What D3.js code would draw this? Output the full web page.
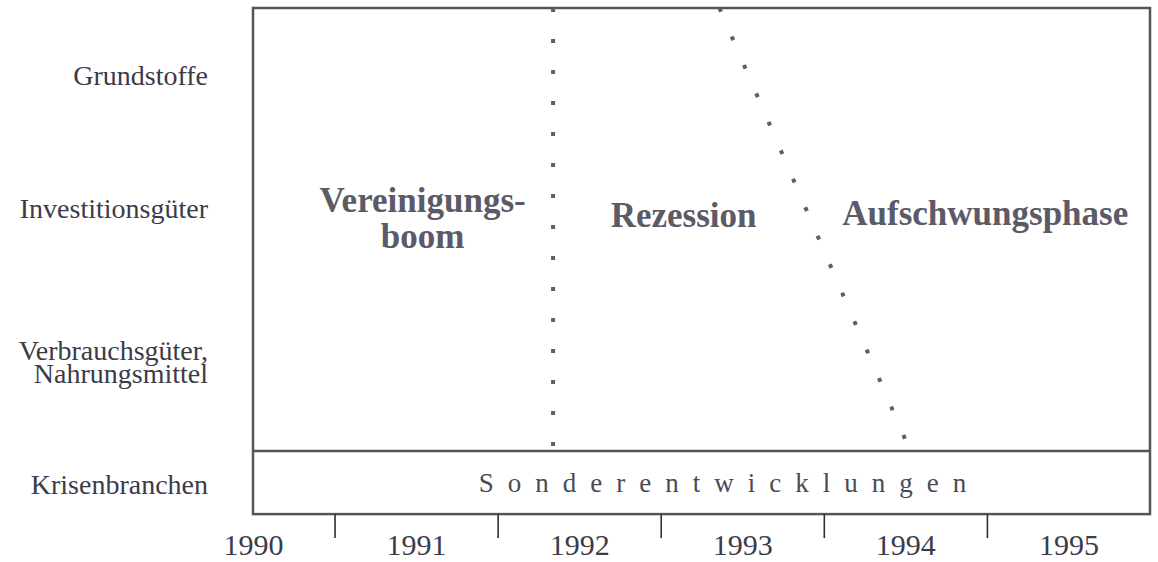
<!DOCTYPE html>
<html>
<head>
<meta charset="utf-8">
<script src="https://cdn.jsdelivr.net/npm/d3@7"></script>
<style>
  body { margin: 0; background: #fff; }
  svg { display: block; }
  svg text { font-family: "Liberation Serif", "DejaVu Serif", "Times New Roman", Times, serif; }
</style>
</head>
<body>
<svg id="chart"></svg>
<script>
const width = 1158;
const height = 562;
const serif = "'Liberation Serif', 'DejaVu Serif', 'Times New Roman', Times, serif";

// years on the time axis, tick marks sit between them
const years = [1990, 1991, 1992, 1993, 1994, 1995];
const tickMarks = [1990.5, 1991.5, 1992.5, 1993.5, 1994.5];
const timeSpan = [1990, 1995.5];

// branch rows (level = vertical position in row units)
const rowLabels = [["Grundstoffe"], ["Investitionsgüter"], ["Verbrauchsgüter,", "Nahrungsmittel"], ["Krisenbranchen"]];
const rowLevels = [0.51, 1.5, 2.64, 3.55];
const levelSpan = [0, 3.3, 3.77];   // top, top of strip, bottom of strip

// phase boundaries: [year at top, year at bottom]
const boundaries = [[1991.84, 1991.84], [1992.86, 1994.03]];

// phase labels
const phaseNames = [["Vereinigungs-", "boom"], ["Rezession"], ["Aufschwungsphase"]];
const phaseYears = [1991.04, 1992.64, 1994.49];
const phaseLevels = [1.52, 1.63, 1.62];

const stripLabel = "Sonderentwicklungen";

const svg = d3.select("#chart")
    .attr("width", width)
    .attr("height", height);

const x = d3.scaleLinear()
    .domain(timeSpan)
    .range([253, 1150]);

const y = d3.scaleLinear()
    .domain([0, 3.3])
    .range([8, 451]);

const textColor = "#3c3b48";
const lineColor = "#55555e";

// row labels on the left
const rows = svg.append("g")
    .selectAll("text")
    .data(rowLabels)
    .join("text")
    .attr("x", 208)
    .attr("y", (d, i) => y(rowLevels[i]) + 9 - (d.length - 1) * 11)
    .attr("text-anchor", "end")
    .attr("font-family", serif)
    .style("font-size", "28px")
    .style("fill", textColor);

rows.selectAll("tspan")
    .data(d => d)
    .join("tspan")
    .attr("x", 208)
    .attr("dy", (d, i) => i === 0 ? 0 : 23)
    .text(d => d);

// outer box
svg.append("rect")
    .attr("x", x(timeSpan[0]))
    .attr("y", y(levelSpan[0]))
    .attr("width", x(timeSpan[1]) - x(timeSpan[0]))
    .attr("height", y(levelSpan[2]) - y(levelSpan[0]))
    .attr("fill", "none")
    .attr("stroke", lineColor)
    .attr("stroke-width", 2.5);

// line on top of the strip
svg.append("line")
    .attr("x1", x(timeSpan[0]))
    .attr("x2", x(timeSpan[1]))
    .attr("y1", y(levelSpan[1]))
    .attr("y2", y(levelSpan[1]))
    .attr("stroke", lineColor)
    .attr("stroke-width", 2.5);

// dotted phase boundaries
svg.append("g")
    .selectAll("line")
    .data(boundaries)
    .join("line")
    .attr("x1", d => x(d[0]))
    .attr("y1", y(levelSpan[0]))
    .attr("x2", d => x(d[1]))
    .attr("y2", y(levelSpan[1]))
    .attr("stroke", "#5e5e68")
    .attr("stroke-width", 4)
    .attr("stroke-dasharray", "4 27");

// phase labels
const phases = svg.append("g")
    .selectAll("text")
    .data(phaseNames)
    .join("text")
    .attr("x", (d, i) => x(phaseYears[i]))
    .attr("y", (d, i) => y(phaseLevels[i]))
    .attr("text-anchor", "middle")
    .attr("font-family", serif)
    .style("font-size", "35px")
    .style("font-weight", "bold")
    .style("fill", "#5b5a66");

phases.selectAll("tspan")
    .data(d => d)
    .join("tspan")
    .attr("x", function() { return d3.select(this.parentNode).attr("x"); })
    .attr("dy", (d, i) => i === 0 ? 0 : 36)
    .text(d => d);

// strip label
svg.append("text")
    .attr("x", (x(timeSpan[0]) + x(timeSpan[1])) / 2 + 28)
    .attr("y", (y(levelSpan[1]) + y(levelSpan[2])) / 2 + 9)
    .attr("text-anchor", "middle")
    .attr("font-family", serif)
    .style("font-size", "27px")
    .style("letter-spacing", "14px")
    .style("fill", "#4a4a55")
    .text(stripLabel);

// time axis: labels on years, marks in between
const axisY = y(levelSpan[2]);

svg.append("g")
    .attr("transform", `translate(0,${axisY})`)
    .call(d3.axisBottom(x).tickValues(years).tickFormat(d3.format("d")).tickSize(0).tickPadding(20))
    .call(g => g.select(".domain").remove())
    .call(g => g.attr("font-family", serif))
    .call(g => g.selectAll("text")
        .style("font-size", "30px")
        .style("fill", textColor));

svg.append("g")
    .attr("transform", `translate(0,${axisY})`)
    .call(d3.axisBottom(x).tickValues(tickMarks).tickFormat("").tickSize(24))
    .call(g => g.select(".domain").remove())
    .call(g => g.selectAll("line")
        .attr("stroke", "#2e2e36")
        .attr("stroke-width", 1.6));
</script>
</body>
</html>
